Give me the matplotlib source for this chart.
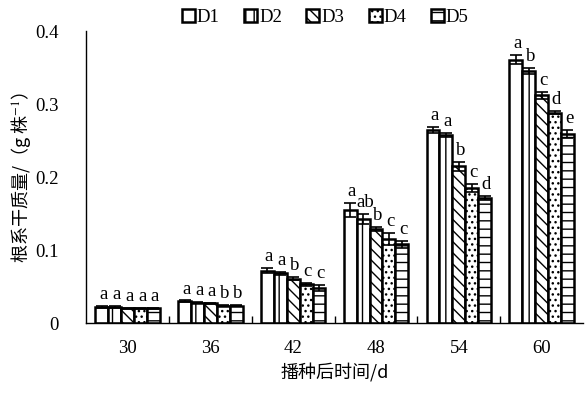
import matplotlib
matplotlib.use("Agg")
import matplotlib.pyplot as plt
import numpy as np
from matplotlib.ticker import FuncFormatter, FixedLocator
from matplotlib.patches import Patch

plt.rcParams['font.family'] = ['Liberation Serif', 'Noto Sans CJK SC', 'DejaVu Sans']
plt.rcParams['mathtext.fontset'] = 'stix'
plt.rcParams['hatch.linewidth'] = 1.0

days = ['30', '36', '42', '48', '54', '60']
series = ['D1', 'D2', 'D3', 'D4', 'D5']
d1 = [0.022, 0.030, 0.072, 0.155, 0.265, 0.361]
d2 = [0.022, 0.028, 0.068, 0.143, 0.258, 0.345]
d3 = [0.020, 0.027, 0.061, 0.129, 0.215, 0.312]
d4 = [0.020, 0.024, 0.053, 0.115, 0.185, 0.288]
d5 = [0.020, 0.024, 0.048, 0.108, 0.171, 0.259]
e1 = [0.001, 0.001, 0.004, 0.010, 0.004, 0.006]
e2 = [0.001, 0.001, 0.002, 0.007, 0.003, 0.004]
e3 = [0.001, 0.001, 0.002, 0.003, 0.006, 0.005]
e4 = [0.001, 0.001, 0.002, 0.008, 0.005, 0.002]
e5 = [0.001, 0.001, 0.004, 0.005, 0.003, 0.005]
l1 = ['a', 'a', 'a', 'a', 'a', 'a']
l2 = ['a', 'a', 'a', 'ab', 'a', 'b']
l3 = ['a', 'a', 'b', 'b', 'b', 'c']
l4 = ['a', 'b', 'c', 'c', 'c', 'd']
l5 = ['a', 'b', 'c', 'c', 'd', 'e']

values = [d1, d2, d3, d4, d5]
errors = [e1, e2, e3, e4, e5]
letters = [l1, l2, l3, l4, l5]
hatches = ['', '||', '\\\\\\', '...', '--']

fig = plt.figure(figsize=(5.86, 3.94), dpi=100)
ax = fig.add_axes([0.147, 0.180, 0.848, 0.741])

x = np.arange(len(days))
w = 0.156
for i in range(5):
    pos = x + (i - 2) * w
    ax.bar(pos, values[i], width=w, color='white', edgecolor='black',
           linewidth=1.8, hatch=hatches[i], zorder=2)
    ax.errorbar(pos, values[i], yerr=errors[i], fmt='none', ecolor='black',
                elinewidth=1.2, capsize=4, capthick=1.2, zorder=3)
    for j in range(len(days)):
        ax.text(pos[j] + 0.02, values[i][j] + errors[i][j] + 0.004, letters[i][j],
                ha='center', va='bottom', fontsize=13.5)

ax.set_xlim(-0.5, len(days) - 0.5)
ax.set_ylim(0, 0.4)
ax.set_xticks(x)
ax.set_xticklabels(days, fontsize=13.5)
ax.xaxis.set_minor_locator(FixedLocator(np.arange(0.5, len(days) - 0.5, 1)))
ax.tick_params(axis='x', which='major', length=0, pad=12)
ax.tick_params(axis='x', which='minor', direction='in', length=5, width=1)
ax.set_yticks([0, 0.1, 0.2, 0.3, 0.4])
ax.yaxis.set_major_formatter(FuncFormatter(lambda v, p: '0' if v == 0 else f'{v:.1f}'))
ax.tick_params(axis='y', direction='in', length=0, labelsize=13.5, pad=20)
ax.spines['top'].set_visible(False)
ax.spines['right'].set_visible(False)
ax.spines['left'].set_linewidth(1.0)
ax.spines['bottom'].set_linewidth(1.0)

ax.set_xlabel('播种后时间/d', fontsize=13, family=['Noto Sans CJK SC', 'Liberation Serif'],
              fontweight='light', labelpad=5)
ax.set_ylabel('根系干质量/（g 株$^{-1}$）', fontsize=13, fontweight='light',
              family=['Noto Sans CJK SC', 'Liberation Serif'], labelpad=1)

handles = [Patch(facecolor='white', edgecolor='black', linewidth=1.8, hatch=h) for h in hatches]
fig.legend(handles, series, loc='upper center', bbox_to_anchor=(0.555, 1.02), ncol=5,
           frameon=False, fontsize=13.5, handlelength=0.7, handleheight=0.7,
           handletextpad=0.1, columnspacing=1.3)

fig.savefig('out.png', dpi=100)
